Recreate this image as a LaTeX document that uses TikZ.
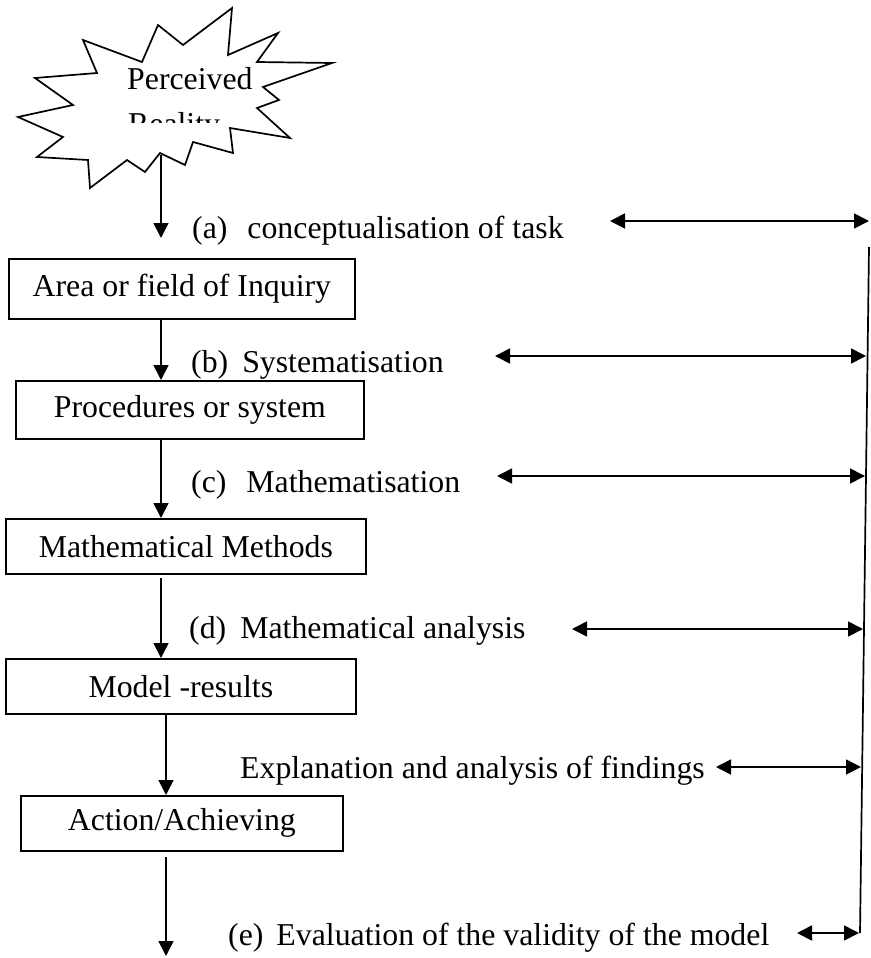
\documentclass[tikz,border=0pt]{standalone}
\usepackage{fontspec}
\setmainfont{Liberation Serif}
\usetikzlibrary{arrows.meta}
\begin{document}
\begin{tikzpicture}[x=1pt,y=-1pt,
  every node/.style={font=\fontsize{31.8}{37}\selectfont, inner sep=0pt},
  line/.style={line width=1.7pt},
  arr/.style={line width=1.7pt,-{Triangle[length=15pt,width=15pt]}},
  darr/.style={line width=1.7pt,{Triangle[length=15pt,width=15pt]}-{Triangle[length=15pt,width=15pt]}},
  box/.style={draw, line width=1.7pt, anchor=north west},
  lab/.style={anchor=base west}]
\useasboundingbox (0,0) rectangle (870,958);

% star
\draw[line, fill=white, line join=miter] (232,8) -- (228,55) -- (278,33) -- (257,62) -- (332,63) -- (263,87)
  -- (279,100) -- (257,108) -- (290,138) -- (230,128) -- (233,153) -- (193,142) -- (185,165)
  -- (160,153) -- (145,172) -- (127,160) -- (90,188) -- (88,160) -- (37,157) -- (63,137)
  -- (18,117) -- (73,105) -- (35,78) -- (97,73) -- (83,40) -- (142,62) -- (158,25) -- (183,45) -- cycle;
\node[anchor=base west] (per) at (127,89) {Perceived};
\begin{scope}
  \clip (100,95) rectangle (300,122);
  \node[anchor=base west] (real) at (128,134) {Reality};
\end{scope}

% boxes
\node[box, minimum width=346pt, minimum height=60pt] (b1) at (8,258) {Area or field of Inquiry};
\node[box, minimum width=348pt, minimum height=58pt] (b2) at (15,380) {Procedures or system};
\node[box, minimum width=360pt, minimum height=55pt] (b3) at (5,518) {Mathematical Methods};
\node[box, minimum width=350pt, minimum height=55pt] (b4) at (5,658) {Model -results};
\node[box, minimum width=322pt, minimum height=55pt] (b5) at (20,795) {Action/Achieving};

% vertical flow arrows
\coordinate (s0) at (161,155);
\coordinate (t0) at (161,238);
\draw[arr] (s0) -- (t0);
\coordinate (x1) at (161,0);
\draw[arr] (b1.south -| x1) -- (b2.north -| x1);
\draw[arr] (b2.south -| x1) -- (b3.north -| x1);
\coordinate (s3) at (161,578);
\draw[arr] (s3) -- (b4.north -| s3);
\coordinate (x2) at (166,0);
\draw[arr] (b4.south -| x2) -- (b5.north -| x2);
\coordinate (s5) at (166,857);
\coordinate (t5) at (166,956);
\draw[arr] (s5) -- (t5);

% labels
\node[lab] (la) at (192,238) {(a)\hspace{20pt}conceptualisation of task};
\node[lab] (lb) at (191,372) {(b)\hspace{14pt}Systematisation};
\node[lab] (lc) at (191,492) {(c)\hspace{20pt}Mathematisation};
\node[lab] (ld) at (189,638) {(d)\hspace{14pt}Mathematical analysis};
\node[lab] (le) at (240,778) {Explanation and analysis of findings};
\node[lab] (lf) at (228,945) {(e)\hspace{13pt}Evaluation of the validity of the model};

% feedback line
\coordinate (vt) at (869,247);
\coordinate (vb) at (860,933);
\draw[line] (vt) -- (vb);

% double arrows
\coordinate (aL) at (610,221); \coordinate (aR) at (869,221);
\coordinate (bL) at (495,356); \coordinate (bR) at (866,356);
\coordinate (cL) at (497,476); \coordinate (cR) at (865,476);
\coordinate (dL) at (572,629); \coordinate (dR) at (863,629);
\coordinate (eL) at (716,767); \coordinate (eR) at (861,767);
\coordinate (fL) at (797,933); \coordinate (fR) at (859,933);
\draw[darr] (aL) -- (aR);
\draw[darr] (bL) -- (bR);
\draw[darr] (cL) -- (cR);
\draw[darr] (dL) -- (dR);
\draw[darr] (eL) -- (eR);
\draw[darr] (fL) -- (fR);
\end{tikzpicture}
\end{document}
